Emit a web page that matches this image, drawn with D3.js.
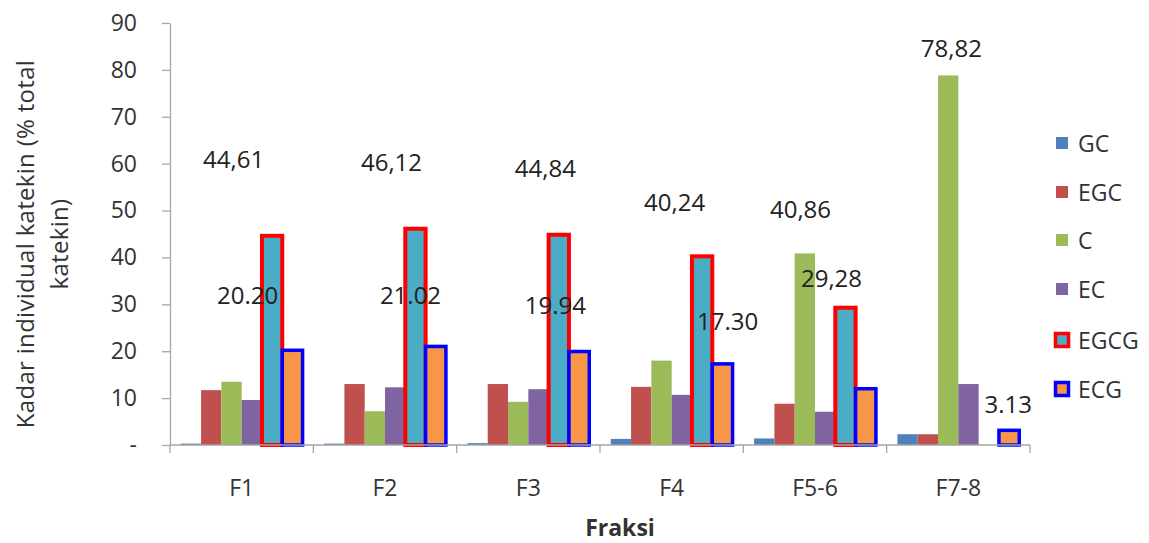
<!DOCTYPE html>
<html>
<head>
<meta charset="utf-8">
<script src="https://cdn.jsdelivr.net/npm/d3@7"></script>
<style>
  html, body { margin: 0; padding: 0; background: #fff; }
  svg { display: block; font-family: "Open Sans", "Noto Sans", sans-serif; }
</style>
</head>
<body>
<svg id="chart" width="1149" height="543"></svg>
<script>
// Fractions on the x axis
const categories = ["F1", "F2", "F3", "F4", "F5-6", "F7-8"];
// Catechin series (% of total catechin)
const seriesNames = ["GC", "EGC", "C", "EC", "EGCG", "ECG"];
const GC   = [0.3, 0.3, 0.4, 1.3, 1.4, 2.3];
const EGC  = [11.7, 13.0, 13.0, 12.4, 8.8, 2.3];
const C    = [13.5, 7.2, 9.2, 18.0, 40.86, 78.82];
const EC   = [9.6, 12.3, 11.9, 10.7, 7.1, 13.0];
const EGCG = [44.61, 46.12, 44.84, 40.24, 29.28, 0];
const ECG  = [20.20, 21.02, 19.94, 17.30, 12.0, 3.13];
const seriesValues = [GC, EGC, C, EC, EGCG, ECG];

// Value labels: which bar they describe and the text written on the chart
const labelCategory = ["F1", "F1", "F2", "F2", "F3", "F3", "F4", "F4", "F5-6", "F5-6", "F7-8", "F7-8"];
const labelSeries   = ["EGCG", "ECG", "EGCG", "ECG", "EGCG", "ECG", "EGCG", "ECG", "C", "EGCG", "C", "ECG"];
const labelText     = ["44,61", "20.20", "46,12", "21.02", "44,84", "19.94", "40,24", "17.30", "40,86", "29,28", "78,82", "3.13"];

const yTickValues = [0, 10, 20, 30, 40, 50, 60, 70, 80, 90];
const yTickLabels = ["-", "10", "20", "30", "40", "50", "60", "70", "80", "90"];

// Styling
const fills   = ["#4F81BD", "#C0504D", "#9BBB59", "#8064A2", "#4BACC6", "#F79646"];
const strokes = [null, null, null, null, "#FF0000", "#0000FF"];
const strokeW = [0, 0, 0, 0, 4, 3.5];
// Hand-placed label offsets (px) from the category centre and the bar top
const labelNudgeX = [-8, 6, 6.5, 25.5, 17, 27, 3, 56, -14.5, 16.5, -7, 50];
const labelNudgeY = [-77, -56, -67, -52, -67, -47.5, -55, -43, -44.5, -30, -27.5, -27];

const textColor = "#333333";
const axisColor = "#A6A6A6";
const fontSize = 23;

const svg = d3.select("#chart");
const plot = { left: 170, right: 1030, top: 23, bottom: 445 };

const x0 = d3.scaleBand().domain(categories)
  .range([plot.left, plot.right]).paddingInner(0.15).paddingOuter(0.075);
const x1 = d3.scaleBand().domain(seriesNames).range([0, x0.bandwidth()]);
const y = d3.scaleLinear().domain([0, 90]).range([plot.bottom, plot.top]);

// Y axis
const yAxis = d3.axisLeft(y).tickValues(yTickValues)
  .tickFormat((d, i) => yTickLabels[i]).tickSizeInner(8).tickSizeOuter(0).tickPadding(25);
const gy = svg.append("g").attr("transform", `translate(${plot.left},0)`).call(yAxis);
gy.select(".domain").attr("stroke", axisColor).attr("stroke-width", 1.3);
gy.selectAll(".tick line").attr("stroke", axisColor).attr("stroke-width", 1.3);
gy.selectAll(".tick text").attr("fill", textColor).style("font-size", fontSize + "px")
  .style("font-family", '"Open Sans", sans-serif');

// Bars
const groups = svg.append("g").selectAll("g").data(categories).join("g")
  .attr("transform", d => `translate(${x0(d)},0)`);
groups.each(function(cat, ci) {
  const g = d3.select(this);
  seriesNames.forEach((s, si) => {
    const v = seriesValues[si][ci];
    if (v <= 0) return;
    const r = g.append("rect")
      .attr("x", x1(s))
      .attr("y", y(v))
      .attr("width", x1.bandwidth())
      .attr("height", y(0) - y(v))
      .attr("fill", fills[si]);
    if (strokes[si]) {
      r.attr("stroke", strokes[si]).attr("stroke-width", strokeW[si]);
    }
  });
});

// X axis with ticks between categories
const gx = svg.append("g");
gx.append("line").attr("x1", plot.left).attr("x2", plot.right)
  .attr("y1", y(0)).attr("y2", y(0)).attr("stroke", axisColor).attr("stroke-width", 1.3);
const boundaries = categories.map(c => x0(c) - x0.step() * 0.075).concat([plot.right]);
gx.selectAll("line.tk").data(boundaries).join("line").attr("class", "tk")
  .attr("x1", d => d).attr("x2", d => d)
  .attr("y1", y(0)).attr("y2", y(0) + 8)
  .attr("stroke", axisColor).attr("stroke-width", 1.3);
gx.selectAll("text").data(categories).join("text")
  .attr("x", d => x0(d) + x0.bandwidth() / 2)
  .attr("y", 496)
  .attr("text-anchor", "middle")
  .attr("fill", textColor)
  .style("font-size", fontSize + "px")
  .text(d => d);

// Value labels
svg.append("g").selectAll("text").data(labelText).join("text")
  .attr("x", (d, i) => x0(labelCategory[i]) + x0.bandwidth() / 2 + labelNudgeX[i])
  .attr("y", (d, i) => y(seriesValues[seriesNames.indexOf(labelSeries[i])][categories.indexOf(labelCategory[i])]) + labelNudgeY[i])
  .attr("text-anchor", "middle")
  .attr("dominant-baseline", "central")
  .attr("fill", "#222")
  .style("font-size", "24px")
  .text(d => d);

// Axis titles
svg.append("text")
  .attr("transform", "translate(620,527)")
  .attr("text-anchor", "middle").attr("dominant-baseline", "central")
  .attr("fill", textColor).style("font-size", fontSize + "px").style("font-weight", "bold")
  .text("Fraksi");

const yTitle = svg.append("text")
  .attr("transform", "translate(44,244) rotate(-90)")
  .attr("text-anchor", "middle")
  .attr("fill", textColor).style("font-size", "24px").style("letter-spacing", "0.3px");
yTitle.append("tspan").attr("x", 0).attr("dy", "-0.4em").text("Kadar individual katekin (% total");
yTitle.append("tspan").attr("x", 0).attr("dy", "1.4em").text("katekin)");

// Legend
const legend = svg.append("g");
const legendY = [143, 192, 240, 289, 340, 389];
seriesNames.forEach((s, i) => {
  const row = legend.append("g").attr("transform", `translate(1062,${legendY[i]})`);
  if (strokes[i]) {
    row.append("rect").attr("x", -6.5).attr("y", -6.5).attr("width", 13).attr("height", 13)
      .attr("fill", fills[i]).attr("stroke", strokes[i]).attr("stroke-width", 3.5);
  } else {
    row.append("rect").attr("x", -6).attr("y", -6).attr("width", 12).attr("height", 12)
      .attr("fill", fills[i]);
  }
  row.append("text").attr("x", 16).attr("y", 0).attr("dominant-baseline", "central")
    .attr("fill", textColor).style("font-size", fontSize + "px").text(s);
});
</script>
</body>
</html>
